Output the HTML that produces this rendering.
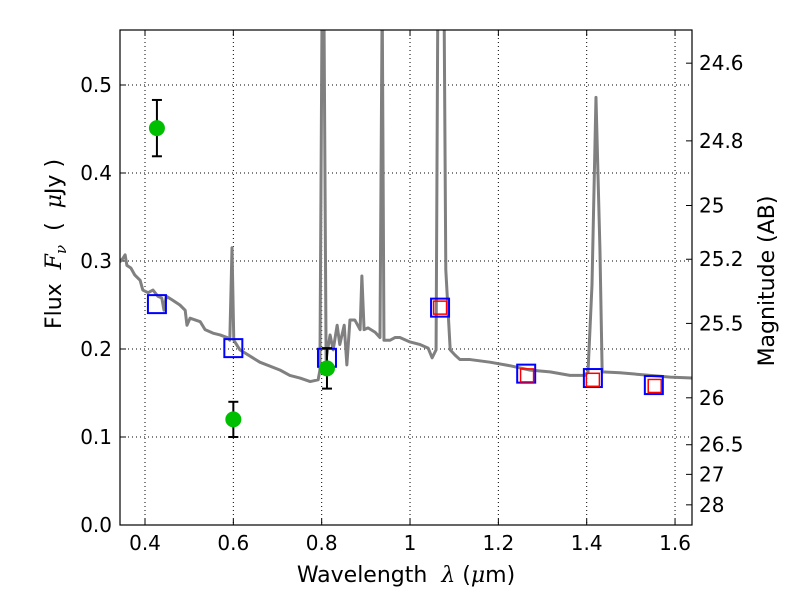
<!DOCTYPE html>
<html><head><meta charset="utf-8"><style>
body{margin:0;background:#fff;font-family:"DejaVu Sans","Liberation Sans",sans-serif}
</style></head><body>
<svg id="c" width="800" height="600" xmlns="http://www.w3.org/2000/svg" font-family="DejaVu Sans, Liberation Sans, sans-serif"></svg>
<script>
const lam=[0.343,0.350,0.355,0.359,0.368,0.377,0.389,0.395,0.407,0.418,0.429,0.438,0.443,0.448,0.461,0.479,0.491,0.495,0.502,0.525,0.536,0.554,0.570,0.586,0.592,0.597,0.601,0.615,0.660,0.706,0.728,0.751,0.774,0.792,0.796,0.801,0.805,0.810,0.819,0.826,0.835,0.841,0.851,0.857,0.864,0.875,0.887,0.891,0.896,0.905,0.921,0.932,0.937,0.941,0.955,0.966,0.977,1.000,1.023,1.041,1.050,1.059,1.063,1.077,1.081,1.091,1.102,1.113,1.136,1.181,1.226,1.272,1.317,1.362,1.396,1.403,1.412,1.421,1.430,1.435,1.475,1.543,1.589,1.638];
const flux=[0.299,0.303,0.307,0.295,0.292,0.284,0.278,0.267,0.264,0.267,0.260,0.258,0.244,0.260,0.256,0.250,0.244,0.227,0.235,0.231,0.222,0.218,0.216,0.213,0.210,0.315,0.210,0.199,0.185,0.176,0.170,0.167,0.163,0.165,0.176,0.6,0.6,0.188,0.216,0.199,0.227,0.205,0.227,0.182,0.233,0.233,0.222,0.283,0.222,0.224,0.219,0.213,0.6,0.210,0.210,0.213,0.213,0.208,0.205,0.201,0.190,0.199,0.6,0.6,0.290,0.199,0.193,0.188,0.188,0.185,0.181,0.176,0.174,0.170,0.170,0.174,0.273,0.486,0.3125,0.174,0.173,0.170,0.168,0.167];
const obsLam=[0.427,0.600,0.812];
const obsF=[0.451,0.120,0.178];
const obsErr=[0.032,0.020,0.023];
const modLam=[0.427,0.600,0.812,1.068,1.263,1.414,1.552];
const modF=[0.251,0.201,0.190,0.247,0.172,0.167,0.159];
const redLam=[1.068,1.265,1.414,1.554];
const redF=[0.247,0.170,0.165,0.158];
const xTicks=[0.4,0.6,0.8,1.0,1.2,1.4,1.6];
const xLabels=["0.4","0.6","0.8","1","1.2","1.4","1.6"];
const yTicks=[0,0.1,0.2,0.3,0.4,0.5];
const magTicks=[24.6,24.8,25,25.2,25.5,26,26.5,27,28];

const L=120,R=692,T=30,B=525;
const X=v=>145+(v-0.4)*441.7;
const Y=v=>B-v*880;
const svg=document.getElementById('c');const NS='http://www.w3.org/2000/svg';
function el(t,a,p){const e=document.createElementNS(NS,t);for(const k in a)e.setAttribute(k,a[k]);(p||svg).appendChild(e);return e;}
const defs=el('defs',{});const cp=el('clipPath',{id:'cp'},defs);el('rect',{x:L,y:T,width:R-L,height:B-T},cp);
xTicks.forEach((v,i)=>{const g=el('line',{x1:X(v),x2:X(v),y1:T,y2:B,stroke:'#000','stroke-dasharray':'1,3','stroke-width':1});

el('line',{x1:X(v),x2:X(v),y1:B,y2:B-6,stroke:'#000'});el('line',{x1:X(v),x2:X(v),y1:T,y2:T+6,stroke:'#000'});
const t=el('text',{x:X(v),y:B+25,'text-anchor':'middle','font-size':20});t.textContent=xLabels[i];
});
yTicks.forEach(v=>{if(v>0){const g=el('line',{x1:L,x2:R,y1:Y(v),y2:Y(v),stroke:'#000','stroke-dasharray':'1,3'});
}
el('line',{x1:L,x2:L+6,y1:Y(v),y2:Y(v),stroke:'#000'});
const t=el('text',{x:L-8,y:Y(v)+7,'text-anchor':'end','font-size':20});t.textContent=v.toFixed(1);
});
magTicks.forEach(m=>{const f=Math.pow(10,(23.9-m)/2.5);const y=Y(f);
el('line',{x1:R,x2:R-6,y1:y,y2:y,stroke:'#000'});
const t=el('text',{x:R+7,y:y+7,'font-size':20});t.textContent=String(m);
});
const g=el('g',{'clip-path':'url(#cp)'});
const sp=el('polyline',{points:lam.map((l,i)=>X(l)+','+Y(flux[i])).join(' '),fill:'none',stroke:'#808080','stroke-width':3,'stroke-linejoin':'round'},g);

modLam.forEach((l,i)=>{const s=el('rect',{x:X(l)-9,y:Y(modF[i])-9,width:18,height:18,fill:'none',stroke:'#0000ff','stroke-width':2},g);
});
redLam.forEach((l,i)=>{const s=el('rect',{x:X(l)-6.5,y:Y(redF[i])-6.5,width:13,height:13,fill:'none',stroke:'#ff0000','stroke-width':1.5},g);
});
obsLam.forEach((l,i)=>{const x=X(l),y1=Y(obsF[i]+obsErr[i]),y2=Y(obsF[i]-obsErr[i]);
el('line',{x1:x,x2:x,y1:y1,y2:y2,stroke:'#000','stroke-width':2});
el('line',{x1:x-5,x2:x+5,y1:y1,y2:y1,stroke:'#000','stroke-width':2});
el('line',{x1:x-5,x2:x+5,y1:y2,y2:y2,stroke:'#000','stroke-width':2});
const c=el('circle',{cx:x,cy:Y(obsF[i]),r:8,fill:'#00bf00'});
});
const fr=el('rect',{x:L,y:T,width:R-L,height:B-T,fill:'none',stroke:'#000','stroke-width':1.2});

const xt=el('text',{x:406,y:582,'text-anchor':'middle','font-size':22});xt.innerHTML='Wavelength&#160;&#160;<tspan font-family="DejaVu Serif" font-style="italic">λ</tspan> (<tspan font-family="DejaVu Serif" font-style="italic">μ</tspan>m)';

const yt=el('text',{x:0,y:0,'text-anchor':'middle','font-size':22,transform:'translate(61,244) rotate(-90)'});
yt.innerHTML='Flux&#160;&#160;<tspan font-family="DejaVu Serif" font-style="italic">F</tspan><tspan font-family="DejaVu Serif" font-style="italic" font-size="15" dy="5">ν</tspan><tspan dy="-5">&#160;&#160;(&#160;&#160;</tspan><tspan font-family="DejaVu Serif" font-style="italic">μ</tspan>Jy )';

const rt=el('text',{x:0,y:0,'text-anchor':'middle','font-size':22,transform:'translate(774,281) rotate(-90)'});rt.textContent='Magnitude (AB)';

</script>
</body></html>
